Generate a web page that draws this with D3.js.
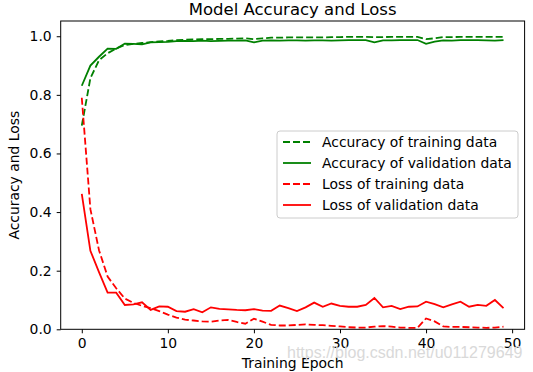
<!DOCTYPE html>
<html>
<head>
<meta charset="utf-8">
<script src="https://cdn.jsdelivr.net/npm/d3@7"></script>
<style>
  body { margin: 0; background: #fff; }
  text { font-family: "DejaVu Sans", sans-serif; fill: #000; }
</style>
</head>
<body>
<div id="chart"></div>
<script>
// epochs 0..49
const epochs = d3.range(50);

const trainAcc = [0.695, 0.857, 0.918, 0.942, 0.958, 0.970, 0.974, 0.977, 0.980, 0.982,
  0.984, 0.987, 0.988, 0.989, 0.990, 0.990, 0.991, 0.991, 0.992, 0.993,
  0.990, 0.993, 0.995, 0.995, 0.996, 0.996, 0.996, 0.996, 0.996, 0.997,
  0.997, 0.998, 0.998, 0.998, 0.997, 0.997, 0.998, 0.998, 0.998, 0.998,
  0.990, 0.993, 0.997, 0.997, 0.998, 0.998, 0.998, 0.998, 0.998, 0.998];

const valAcc = [0.831, 0.900, 0.930, 0.958, 0.957, 0.975, 0.974, 0.972, 0.979, 0.980,
  0.981, 0.983, 0.984, 0.983, 0.985, 0.983, 0.984, 0.985, 0.985, 0.986,
  0.979, 0.985, 0.986, 0.985, 0.986, 0.986, 0.985, 0.986, 0.986, 0.985,
  0.986, 0.987, 0.987, 0.987, 0.979, 0.986, 0.986, 0.987, 0.987, 0.987,
  0.974, 0.982, 0.986, 0.985, 0.987, 0.987, 0.987, 0.986, 0.985, 0.987];

const trainLoss = [0.790, 0.410, 0.270, 0.180, 0.140, 0.105, 0.090, 0.080, 0.072, 0.062,
  0.050, 0.040, 0.033, 0.030, 0.027, 0.026, 0.030, 0.032, 0.025, 0.019,
  0.036, 0.026, 0.015, 0.013, 0.013, 0.015, 0.017, 0.015, 0.014, 0.012,
  0.010, 0.007, 0.006, 0.006, 0.009, 0.011, 0.009, 0.006, 0.005, 0.005,
  0.037, 0.027, 0.010, 0.008, 0.008, 0.007, 0.006, 0.005, 0.006, 0.009];

const valLoss = [0.462, 0.268, 0.195, 0.125, 0.125, 0.083, 0.085, 0.092, 0.066, 0.078,
  0.077, 0.062, 0.060, 0.069, 0.058, 0.075, 0.070, 0.068, 0.066, 0.065,
  0.069, 0.064, 0.063, 0.081, 0.072, 0.062, 0.075, 0.091, 0.077, 0.088,
  0.080, 0.077, 0.077, 0.083, 0.107, 0.075, 0.080, 0.069, 0.077, 0.078,
  0.094, 0.086, 0.075, 0.085, 0.094, 0.077, 0.083, 0.080, 0.100, 0.072];

const xTicks = [0, 10, 20, 30, 40, 50];
const yTicks = [0.0, 0.2, 0.4, 0.6, 0.8, 1.0];

const seriesNames = ["Accuracy of training data", "Accuracy of validation data",
  "Loss of training data", "Loss of validation data"];

const series = [
  {name: seriesNames[0], values: trainAcc, color: "#008000", dash: "7,3"},
  {name: seriesNames[1], values: valAcc, color: "#008000", dash: null},
  {name: seriesNames[2], values: trainLoss, color: "#ff0000", dash: "7,3"},
  {name: seriesNames[3], values: valLoss, color: "#ff0000", dash: null}
];

const W = 533, H = 372;
const margin = {left: 60.7, right: W - 524.6, top: 21, bottom: H - 329.3};
const fs = "13.9px";

const svg = d3.select("#chart").append("svg")
  .attr("width", W).attr("height", H);

const x = d3.scaleLinear().domain([-2.45, 51.45]).range([margin.left, W - margin.right]);
const y = d3.scaleLinear().domain([0, 1.052]).range([H - margin.bottom, margin.top]);

// lines
const line = d3.line().x((d, i) => x(epochs[i])).y(d => y(d));

const plot = svg.append("g");
plot.selectAll("path")
  .data(series)
  .enter().append("path")
  .attr("d", d => line(d.values))
  .attr("fill", "none")
  .attr("stroke", d => d.color)
  .attr("stroke-width", 1.8)
  .attr("stroke-dasharray", d => d.dash);

// axes
const xAxis = svg.append("g")
  .attr("transform", `translate(0,${H - margin.bottom})`)
  .call(d3.axisBottom(x).tickValues(xTicks).tickFormat(d3.format("d")).tickSizeOuter(0).tickSize(4).tickPadding(5));
const yAxis = svg.append("g")
  .attr("transform", `translate(${margin.left},0)`)
  .call(d3.axisLeft(y).tickValues(yTicks).tickFormat(d3.format(".1f")).tickSizeOuter(0).tickSize(4).tickPadding(5));

[xAxis, yAxis].forEach(a => {
  a.selectAll("text").style("font-size", fs).style("font-family", "DejaVu Sans");
  a.select(".domain").remove();
});

// frame
svg.append("rect")
  .attr("x", margin.left).attr("y", margin.top)
  .attr("width", W - margin.right - margin.left)
  .attr("height", H - margin.bottom - margin.top)
  .attr("fill", "none").attr("stroke", "#000").attr("stroke-width", 1);

// title and labels
svg.append("text")
  .attr("x", (margin.left + W - margin.right) / 2).attr("y", 15)
  .attr("text-anchor", "middle").style("font-size", "16.5px")
  .text("Model Accuracy and Loss");

svg.append("text")
  .attr("x", (margin.left + W - margin.right) / 2).attr("y", 368)
  .attr("text-anchor", "middle").style("font-size", fs)
  .text("Training Epoch");

svg.append("text")
  .attr("transform", `translate(19,${(margin.top + H - margin.bottom) / 2}) rotate(-90)`)
  .attr("text-anchor", "middle").style("font-size", fs)
  .text("Accuracy and Loss");

// legend
const legend = svg.append("g").attr("transform", "translate(277,131)");
legend.append("rect")
  .attr("width", 241).attr("height", 87).attr("rx", 3)
  .attr("fill", "#fff").attr("fill-opacity", 0.8)
  .attr("stroke", "#ccc").attr("stroke-width", 1);

const item = legend.selectAll("g.item")
  .data(series)
  .enter().append("g")
  .attr("class", "item")
  .attr("transform", (d, i) => `translate(0,${11 + i * 21})`);
item.append("line")
  .attr("x1", 6).attr("x2", 34)
  .attr("stroke", d => d.color).attr("stroke-width", 1.8)
  .attr("stroke-dasharray", d => d.dash);
item.append("text")
  .attr("x", 45).attr("dy", "0.35em")
  .style("font-size", fs)
  .text(d => d.name);

// watermark
svg.append("text")
  .attr("x", 287).attr("y", 358)
  .style("font-family", "Liberation Sans")
  .style("font-size", "16px")
  .style("fill", "#d9d9d9")
  .text("https://blog.csdn.net/u011279649");
</script>
</body>
</html>
